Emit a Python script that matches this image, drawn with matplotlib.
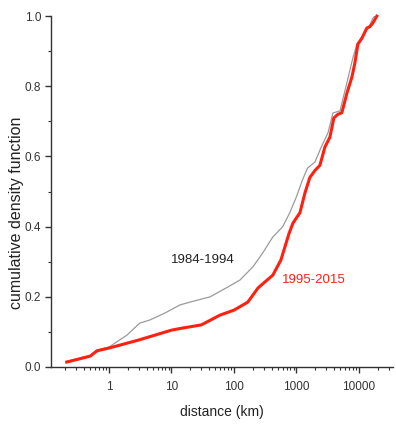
import matplotlib
matplotlib.use("Agg")
import matplotlib.pyplot as plt
from matplotlib.ticker import LogLocator, FixedLocator, FuncFormatter, MultipleLocator, NullFormatter

plt.rcParams['font.family'] = ['Liberation Sans', 'DejaVu Sans']

# 1984-1994 (grey)
dist_old = [0.21, 0.5, 0.64, 1, 1.94, 3.1, 4.5, 7.9, 13.7, 19.8, 41.6, 80, 125, 200, 289, 417,
            604, 785, 1000, 1250, 1510, 1980, 2500, 3200, 3850, 5000, 6430, 8000, 9300,
            12500, 15000, 16700, 18000]
cdf_old = [0.016, 0.033, 0.048, 0.057, 0.091, 0.125, 0.134, 0.154, 0.177, 0.185, 0.2, 0.228,
           0.248, 0.285, 0.325, 0.37, 0.4, 0.44, 0.485, 0.533, 0.567, 0.584, 0.627, 0.667,
           0.724, 0.73, 0.81, 0.88, 0.92, 0.954, 0.974, 0.994, 1.0]

# 1995-2015 (red)
dist_new = [0.21, 0.5, 0.64, 1, 3, 10, 14, 30, 60, 100, 167, 242, 420, 565, 760, 880, 1140,
            1370, 1640, 1980, 2380, 2860, 3440, 3980, 4610, 5350, 6430, 7730, 8630, 9640,
            11200, 13400, 15000, 16700, 19400]
cdf_new = [0.014, 0.031, 0.046, 0.054, 0.077, 0.105, 0.11, 0.12, 0.148, 0.162, 0.185, 0.225,
           0.262, 0.305, 0.38, 0.41, 0.44, 0.496, 0.54, 0.56, 0.575, 0.627, 0.655, 0.71, 0.72,
           0.725, 0.78, 0.826, 0.866, 0.92, 0.937, 0.966, 0.97, 0.98, 1.0]

fig = plt.figure(figsize=(3.96, 4.25), dpi=100)
ax = fig.add_axes([0.129, 0.1365, 0.863, 0.8255])

ax.plot(dist_old, cdf_old, color='#9a9a9a', lw=0.9)
ax.plot(dist_new, cdf_new, color='#ff2010', lw=2.2, clip_on=False)

ax.set_xscale('log')
ax.set_xlim(0.118, 35000)
ax.set_ylim(0, 1.0)

ax.xaxis.set_major_locator(FixedLocator([1, 10, 100, 1000, 10000]))
ax.xaxis.set_major_formatter(FuncFormatter(lambda v, p: '%d' % v))
ax.xaxis.set_minor_locator(LogLocator(base=10, subs=range(2, 10), numticks=20))
ax.xaxis.set_minor_formatter(NullFormatter())
ax.yaxis.set_major_locator(MultipleLocator(0.2))
ax.yaxis.set_minor_locator(MultipleLocator(0.1))
ax.yaxis.set_major_formatter(FuncFormatter(lambda v, p: '%.1f' % v))

for s in ['top', 'right']:
    ax.spines[s].set_visible(False)
for s in ['left', 'bottom']:
    ax.spines[s].set_color('#333333')
    ax.spines[s].set_linewidth(1.0)

ax.tick_params(which='major', direction='out', length=4, width=1, color='#333333',
               labelsize=8.5, labelcolor='#333333', pad=3)
ax.tick_params(which='minor', direction='out', length=2.5, width=0.8, color='#333333')
ax.tick_params(axis='x', which='major', pad=6)

ax.set_xlabel('distance (km)', fontsize=10, color='#222222', labelpad=9)
ax.set_ylabel('cumulative density function', fontsize=11.5, color='#222222')
ax.yaxis.set_label_coords(-0.08, 0.44)

ax.text(10 ** ((203 - 109) / 62.5), 0.305, '1984-1994', fontsize=9.5, color='#222222',
        ha='center', va='center')
ax.text(10 ** ((282 - 109) / 62.5), 0.248, '1995-2015', fontsize=9.5, color='#ff2010',
        ha='left', va='center')

fig.savefig('out.png', dpi=100)
